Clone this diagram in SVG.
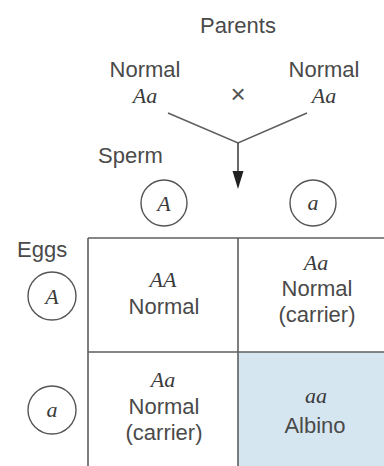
<svg xmlns="http://www.w3.org/2000/svg" width="384" height="466" viewBox="0 0 384 466">
<defs>
<style>
.t{font-family:"Liberation Sans",Arial,sans-serif;font-size:22px;fill:#4a4a4a;text-anchor:middle}
.i{font-family:"Liberation Serif","Times New Roman",serif;font-style:italic;font-size:22px;fill:#3a3a3a;text-anchor:middle}
.c{fill:none;stroke:#555;stroke-width:1.4}
.g{stroke:#5e5e5e;stroke-width:1.6;fill:none}
</style>
</defs>
<rect width="384" height="466" fill="#fff"/>
<g id="parents">
<text class="t" x="238" y="33">Parents</text>
<text class="t" x="145" y="77">Normal</text>
<text class="i" x="145" y="103">Aa</text>
<text class="t" x="324" y="77">Normal</text>
<text class="i" x="324" y="103">Aa</text>
<text class="t" x="238" y="103" style="font-size:26px;fill:#555">×</text>
</g>
<g id="connectors">
<path class="g" d="M168,113 L238,143 L307,113"/>
<line x1="238" y1="143" x2="238" y2="172" stroke="#444" stroke-width="1.6"/>
<path d="M232.5,171 L243.5,171 L238,189 Z" fill="#222"/>
</g>
<g id="sperm">
<text class="t" x="98" y="163" style="text-anchor:start">Sperm</text>
<circle class="c" cx="164" cy="203" r="23"/>
<text class="i" x="164" y="211">A</text>
<circle class="c" cx="313" cy="203" r="23"/>
<text class="i" x="313" y="210">a</text>
</g>
<g id="eggs">
<text class="t" x="17" y="257" style="text-anchor:start">Eggs</text>
<circle class="c" cx="52" cy="296" r="24"/>
<text class="i" x="52" y="304">A</text>
<circle class="c" cx="52" cy="410" r="24"/>
<text class="i" x="52" y="417">a</text>
</g>
<g id="cell-AA">
<text class="i" x="163" y="287">AA</text>
<text class="t" x="164" y="314">Normal</text>
</g>
<g id="cell-Aa-top">
<text class="i" x="316" y="270">Aa</text>
<text class="t" x="317" y="296">Normal</text>
<text class="t" x="317" y="322">(carrier)</text>
</g>
<g id="cell-Aa-bottom">
<text class="i" x="163" y="387">Aa</text>
<text class="t" x="164" y="414">Normal</text>
<text class="t" x="164" y="440">(carrier)</text>
</g>
<g id="cell-aa">
<rect x="238" y="352" width="146" height="114" fill="#d6e6f1"/>
<text class="i" x="316" y="403">aa</text>
<text class="t" x="315" y="433">Albino</text>
</g>
<g id="grid">
<line class="g" x1="88" y1="238" x2="384" y2="238"/>
<line class="g" x1="88" y1="238" x2="88" y2="466"/>
<line class="g" x1="238" y1="238" x2="238" y2="466"/>
<line class="g" x1="88" y1="352" x2="384" y2="352"/>
</g>
</svg>
